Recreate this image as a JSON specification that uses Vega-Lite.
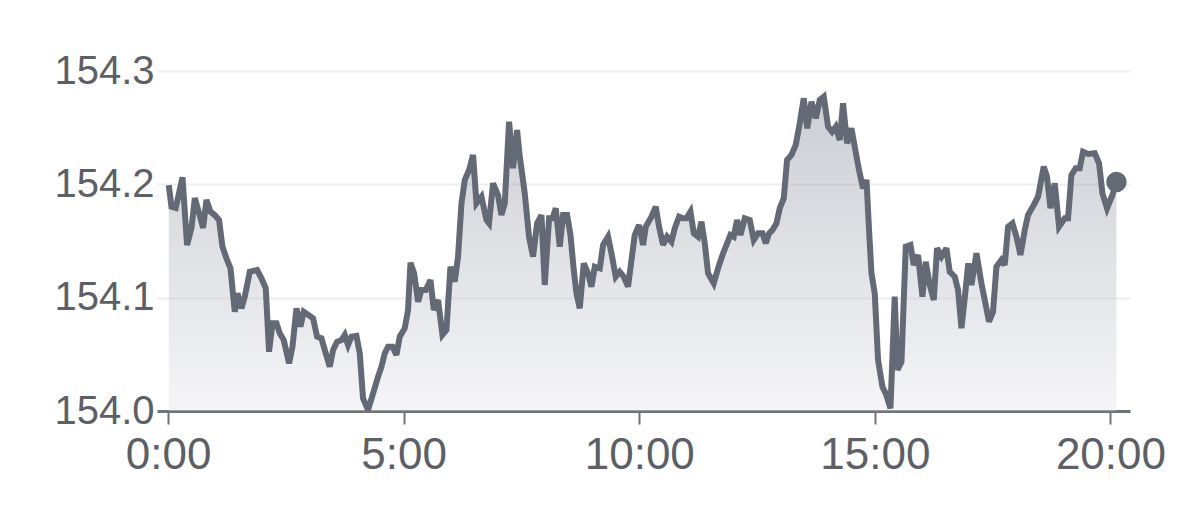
{
  "$schema": "https://vega.github.io/schema/vega-lite/v6.json",
  "width": 973,
  "height": 340,
  "autosize": {"type": "none"},
  "padding": {"left": 157, "top": 71, "right": 49, "bottom": 98},
  "background": "#ffffff",
  "config": {"view": {"stroke": null}, "font": "Liberation Sans"},
  "data": {"values": [
    {"t":0.015,"v":154.1994},{"t":0.072,"v":154.1803},{"t":0.163,"v":154.1791},{"t":0.306,"v":154.2062},{"t":0.403,"v":154.1465},
    {"t":0.497,"v":154.1615},{"t":0.567,"v":154.1879},{"t":0.658,"v":154.1747},{"t":0.743,"v":154.1615},{"t":0.815,"v":154.1862},
    {"t":0.900,"v":154.1759},{"t":0.991,"v":154.1729},{"t":1.082,"v":154.1685},{"t":1.154,"v":154.1450},{"t":1.239,"v":154.1347},
    {"t":1.324,"v":154.1259},{"t":1.416,"v":154.0876},{"t":1.473,"v":154.1039},{"t":1.558,"v":154.0906},{"t":1.628,"v":154.1009},
    {"t":1.734,"v":154.1229},{"t":1.889,"v":154.1244},{"t":1.982,"v":154.1171},{"t":2.073,"v":154.1083},{"t":2.143,"v":154.0523},
    {"t":2.216,"v":154.0774},{"t":2.300,"v":154.0774},{"t":2.370,"v":154.0686},{"t":2.455,"v":154.0626},{"t":2.568,"v":154.0421},
    {"t":2.640,"v":154.0567},{"t":2.725,"v":154.0906},{"t":2.810,"v":154.0744},{"t":2.880,"v":154.0876},{"t":3.077,"v":154.0818},
    {"t":3.162,"v":154.0656},{"t":3.255,"v":154.0641},{"t":3.347,"v":154.0509},{"t":3.432,"v":154.0391},{"t":3.502,"v":154.0538},
    {"t":3.587,"v":154.0611},{"t":3.680,"v":154.0626},{"t":3.750,"v":154.0671},{"t":3.820,"v":154.0582},{"t":3.892,"v":154.0656},
    {"t":3.998,"v":154.0662},{"t":4.068,"v":154.0509},{"t":4.138,"v":154.0112},{"t":4.244,"v":154.0009},{"t":4.351,"v":154.0156},
    {"t":4.457,"v":154.0303},{"t":4.529,"v":154.0391},{"t":4.599,"v":154.0509},{"t":4.669,"v":154.0567},{"t":4.762,"v":154.0567},
    {"t":4.847,"v":154.0494},{"t":4.917,"v":154.0656},{"t":5.023,"v":154.0730},{"t":5.093,"v":154.0891},{"t":5.144,"v":154.1309},
    {"t":5.221,"v":154.1215},{"t":5.306,"v":154.0964},{"t":5.378,"v":154.1068},{"t":5.469,"v":154.1068},{"t":5.569,"v":154.1156},
    {"t":5.639,"v":154.0891},{"t":5.730,"v":154.0979},{"t":5.823,"v":154.0671},{"t":5.908,"v":154.0715},{"t":5.993,"v":154.1273},
    {"t":6.084,"v":154.1141},{"t":6.154,"v":154.1362},{"t":6.227,"v":154.1833},{"t":6.297,"v":154.2038},{"t":6.388,"v":154.2127},
    {"t":6.473,"v":154.2259},{"t":6.545,"v":154.1833},{"t":6.651,"v":154.1891},{"t":6.757,"v":154.1685},{"t":6.812,"v":154.1656},
    {"t":6.897,"v":154.2009},{"t":7.003,"v":154.1906},{"t":7.075,"v":154.1729},{"t":7.146,"v":154.1833},{"t":7.237,"v":154.2553},
    {"t":7.322,"v":154.2142},{"t":7.407,"v":154.2479},{"t":7.464,"v":154.2244},{"t":7.570,"v":154.1921},{"t":7.661,"v":154.1538},
    {"t":7.746,"v":154.1362},{"t":7.831,"v":154.1656},{"t":7.924,"v":154.1729},{"t":7.994,"v":154.1112},{"t":8.086,"v":154.1700},
    {"t":8.158,"v":154.1700},{"t":8.228,"v":154.1789},{"t":8.313,"v":154.1450},{"t":8.383,"v":154.1729},{"t":8.468,"v":154.1729},
    {"t":8.540,"v":154.1553},{"t":8.610,"v":154.1244},{"t":8.667,"v":154.1039},{"t":8.737,"v":154.0906},{"t":8.822,"v":154.1303},
    {"t":8.913,"v":154.1215},{"t":8.985,"v":154.1097},{"t":9.056,"v":154.1273},{"t":9.162,"v":154.1259},{"t":9.232,"v":154.1465},
    {"t":9.338,"v":154.1538},{"t":9.410,"v":154.1392},{"t":9.501,"v":154.1185},{"t":9.586,"v":154.1229},{"t":9.671,"v":154.1185},
    {"t":9.762,"v":154.1097},{"t":9.904,"v":154.1553},{"t":9.996,"v":154.1641},{"t":10.081,"v":154.1465},{"t":10.138,"v":154.1626},
    {"t":10.259,"v":154.1714},{"t":10.350,"v":154.1803},{"t":10.420,"v":154.1626},{"t":10.505,"v":154.1465},{"t":10.590,"v":154.1538},
    {"t":10.683,"v":154.1494},{"t":10.753,"v":154.1612},{"t":10.845,"v":154.1714},{"t":10.930,"v":154.1700},{"t":11.002,"v":154.1700},
    {"t":11.087,"v":154.1759},{"t":11.157,"v":154.1568},{"t":11.248,"v":154.1538},{"t":11.320,"v":154.1670},{"t":11.390,"v":154.1480},
    {"t":11.460,"v":154.1215},{"t":11.581,"v":154.1127},{"t":11.672,"v":154.1259},{"t":11.766,"v":154.1377},{"t":11.851,"v":154.1465},
    {"t":11.935,"v":154.1553},{"t":12.005,"v":154.1538},{"t":12.075,"v":154.1685},{"t":12.148,"v":154.1553},{"t":12.239,"v":154.1700},
    {"t":12.345,"v":154.1685},{"t":12.430,"v":154.1509},{"t":12.521,"v":154.1568},{"t":12.615,"v":154.1568},{"t":12.685,"v":154.1480},
    {"t":12.755,"v":154.1568},{"t":12.827,"v":154.1597},{"t":12.912,"v":154.1656},{"t":12.982,"v":154.1789},{"t":13.067,"v":154.1877},
    {"t":13.137,"v":154.2215},{"t":13.230,"v":154.2259},{"t":13.321,"v":154.2347},{"t":13.406,"v":154.2539},{"t":13.491,"v":154.2759},
    {"t":13.565,"v":154.2494},{"t":13.655,"v":154.2729},{"t":13.746,"v":154.2583},{"t":13.831,"v":154.2744},{"t":13.916,"v":154.2773},
    {"t":14.007,"v":154.2509},{"t":14.092,"v":154.2464},{"t":14.170,"v":154.2509},{"t":14.255,"v":154.2391},{"t":14.325,"v":154.2715},
    {"t":14.410,"v":154.2362},{"t":14.503,"v":154.2494},{"t":14.573,"v":154.2332},{"t":14.664,"v":154.2127},{"t":14.749,"v":154.1965},
    {"t":14.822,"v":154.2038},{"t":14.877,"v":154.1597},{"t":14.928,"v":154.1215},{"t":14.998,"v":154.1039},{"t":15.068,"v":154.0450},
    {"t":15.161,"v":154.0214},{"t":15.231,"v":154.0156},{"t":15.331,"v":154.0024},{"t":15.422,"v":154.1009},{"t":15.480,"v":154.0362},
    {"t":15.565,"v":154.0435},{"t":15.656,"v":154.1450},{"t":15.756,"v":154.1465},{"t":15.826,"v":154.1288},{"t":15.917,"v":154.1377},
    {"t":16.010,"v":154.1009},{"t":16.080,"v":154.1317},{"t":16.165,"v":154.1112},{"t":16.250,"v":154.0979},{"t":16.320,"v":154.1436},
    {"t":16.413,"v":154.1362},{"t":16.519,"v":154.1436},{"t":16.589,"v":154.1229},{"t":16.696,"v":154.1185},{"t":16.766,"v":154.1068},
    {"t":16.838,"v":154.0730},{"t":16.908,"v":154.0997},{"t":16.982,"v":154.1303},{"t":17.050,"v":154.1112},{"t":17.156,"v":154.1392},
    {"t":17.262,"v":154.1127},{"t":17.423,"v":154.0788},{"t":17.508,"v":154.0876},{"t":17.580,"v":154.1273},{"t":17.687,"v":154.1332},
    {"t":17.757,"v":154.1288},{"t":17.827,"v":154.1626},{"t":17.920,"v":154.1656},{"t":18.005,"v":154.1538},{"t":18.090,"v":154.1377},
    {"t":18.181,"v":154.1597},{"t":18.251,"v":154.1729},{"t":18.372,"v":154.1818},{"t":18.463,"v":154.1891},{"t":18.584,"v":154.2156},
    {"t":18.654,"v":154.2067},{"t":18.727,"v":154.1789},{"t":18.818,"v":154.2009},{"t":18.909,"v":154.1626},{"t":19.030,"v":154.1700},
    {"t":19.100,"v":154.1700},{"t":19.172,"v":154.2082},{"t":19.263,"v":154.2142},{"t":19.348,"v":154.2142},{"t":19.418,"v":154.2288},
    {"t":19.525,"v":154.2268},{"t":19.667,"v":154.2274},{"t":19.758,"v":154.2186},{"t":19.830,"v":154.1921},{"t":19.928,"v":154.1789},
    {"t":20.042,"v":154.1906},{"t":20.127,"v":154.2021}
  ]},
  "encoding": {
    "x": {
      "field": "t", "type": "quantitative",
      "scale": {"domain": [-0.235, 20.415], "nice": false, "zero": false},
      "axis": {
        "values": [0, 5, 10, 15, 20],
        "labelExpr": "datum.value + ':00'",
        "title": null, "grid": false,
        "domainColor": "#6f737b", "domainWidth": 3,
        "tickColor": "#6f737b", "tickWidth": 2, "tickSize": 13,
        "labelFontSize": 44, "labelColor": "#5c5f65", "labelPadding": 9,
        "labelFlush": false, "labelOverlap": false
      }
    },
    "y": {
      "field": "v", "type": "quantitative",
      "scale": {"domain": [154.0, 154.3], "nice": false, "zero": false},
      "axis": {
        "values": [154.0, 154.1, 154.2, 154.3],
        "format": ".1f",
        "title": null, "domain": false, "ticks": false,
        "gridColor": "#eeeeee", "gridWidth": 2,
        "labelFontSize": 40, "labelColor": "#5c5f65", "labelPadding": 3,
        "labelBaseline": "middle", "labelFlush": false, "labelOverlap": false
      }
    }
  },
  "layer": [
    {
      "mark": {
        "type": "area", "clip": true, "fillOpacity": 0.37,
        "fill": {
          "gradient": "linear", "x1": 0, "y1": 0, "x2": 0, "y2": 1,
          "stops": [
            {"offset": 0, "color": "#727a89"},
            {"offset": 1, "color": "#e4e4ea"}
          ]
        }
      },
      "encoding": {"y2": {"datum": 154.0}}
    },
    {
      "mark": {"type": "line", "color": "#646a75", "strokeWidth": 6, "strokeJoin": "miter", "strokeMiterLimit": 3, "clip": true}
    },
    {
      "transform": [{"filter": "datum.t > 20.1"}],
      "mark": {"type": "point", "filled": true, "color": "#646a75", "size": 420, "opacity": 1}
    }
  ]
}
